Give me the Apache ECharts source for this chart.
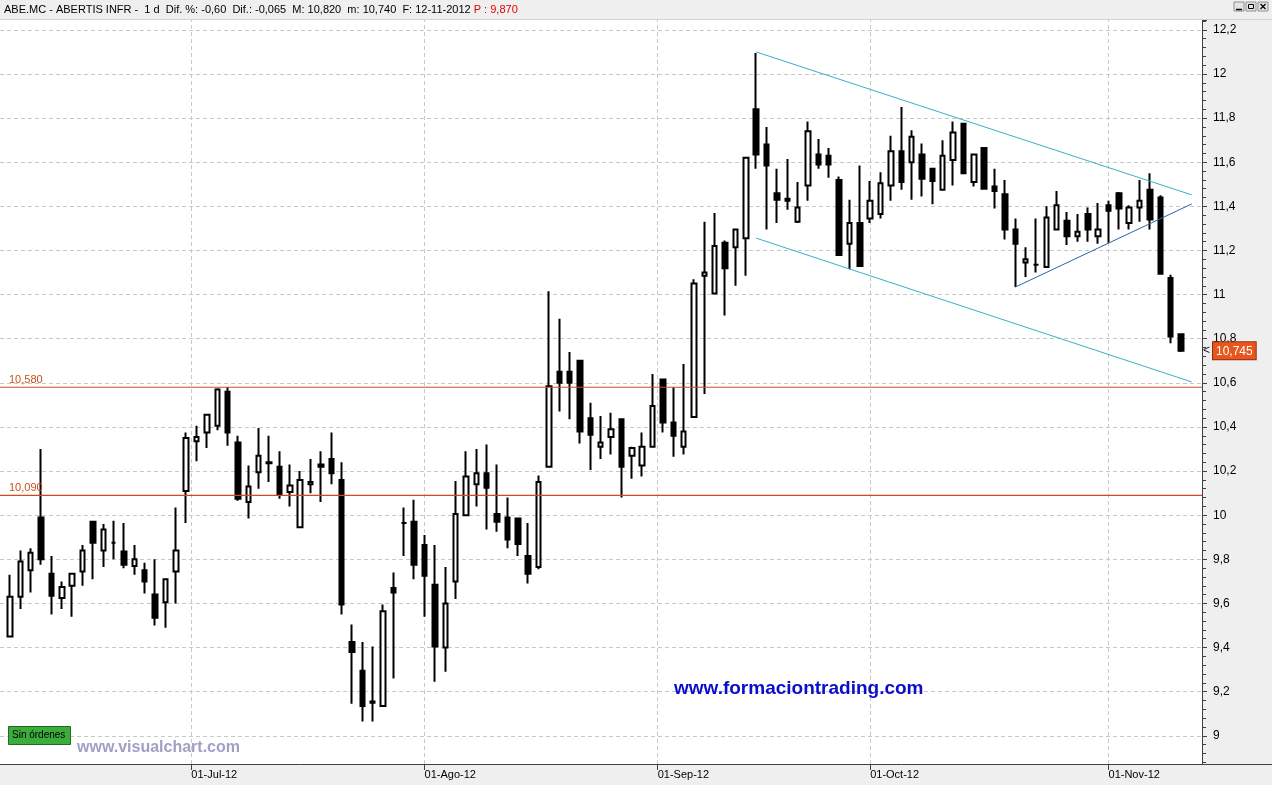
<!DOCTYPE html>
<html><head><meta charset="utf-8">
<script src="https://cdn.jsdelivr.net/npm/echarts@6/dist/echarts.min.js"></script>
<style>html,body{margin:0;padding:0;background:#efefef}#c{width:1272px;height:785px}</style>
</head><body><div id="c"></div><script>
// ---- data ----
const dates = [
 '2012-06-06','2012-06-07','2012-06-08','2012-06-11','2012-06-12','2012-06-13','2012-06-14','2012-06-15','2012-06-18','2012-06-19',
 '2012-06-20','2012-06-21','2012-06-22','2012-06-25','2012-06-26','2012-06-27','2012-06-28','2012-06-29',
 '2012-07-02','2012-07-03','2012-07-04','2012-07-05','2012-07-06','2012-07-09','2012-07-10','2012-07-11','2012-07-12','2012-07-13',
 '2012-07-16','2012-07-17','2012-07-18','2012-07-19','2012-07-20','2012-07-23','2012-07-24','2012-07-25','2012-07-26','2012-07-27',
 '2012-07-30','2012-07-31',
 '2012-08-01','2012-08-02','2012-08-03','2012-08-06','2012-08-07','2012-08-08','2012-08-09','2012-08-10','2012-08-13','2012-08-14',
 '2012-08-15','2012-08-16','2012-08-17','2012-08-20','2012-08-21','2012-08-22','2012-08-23','2012-08-24','2012-08-27','2012-08-28',
 '2012-08-29','2012-08-30','2012-08-31',
 '2012-09-03','2012-09-04','2012-09-05','2012-09-06','2012-09-07','2012-09-10','2012-09-11','2012-09-12','2012-09-13','2012-09-14',
 '2012-09-17','2012-09-18','2012-09-19','2012-09-20','2012-09-21','2012-09-24','2012-09-25','2012-09-26','2012-09-27','2012-09-28',
 '2012-10-01','2012-10-02','2012-10-03','2012-10-04','2012-10-05','2012-10-08','2012-10-09','2012-10-10','2012-10-11','2012-10-12',
 '2012-10-15','2012-10-16','2012-10-17','2012-10-18','2012-10-19','2012-10-22','2012-10-23','2012-10-24','2012-10-25','2012-10-26',
 '2012-10-29','2012-10-30','2012-10-31',
 '2012-11-01','2012-11-02','2012-11-05','2012-11-06','2012-11-07','2012-11-08','2012-11-09','2012-11-12'
];
const openPrices = [
 9.45, 9.63, 9.75, 9.99, 9.735, 9.625, 9.68, 9.745, 9.97, 9.84,
 9.875, 9.835, 9.77, 9.75, 9.64, 9.605, 9.745, 10.11, 10.335, 10.375,
 10.405, 10.56, 10.33, 10.06, 10.195, 10.24, 10.22, 10.105, 9.945, 10.14,
 10.23, 10.255, 10.16, 9.425, 9.295, 9.155, 9.135, 9.67, 9.965, 9.97,
 9.865, 9.685, 9.40, 9.70, 10.00, 10.14, 10.19, 10.005, 9.99, 9.985,
 9.815, 9.765, 10.22, 10.65, 10.65, 10.70, 10.44, 10.31, 10.355, 10.435,
 10.27, 10.225, 10.31, 10.615, 10.42, 10.31, 10.445, 11.085, 11.005, 11.235,
 11.215, 11.255, 11.84, 11.68, 11.46, 11.425, 11.33, 11.495, 11.635, 11.63,
 11.52, 11.23, 11.325, 11.345, 11.365, 11.495, 11.65, 11.60, 11.635, 11.57,
 11.475, 11.61, 11.775, 11.51, 11.665, 11.49, 11.455, 11.295, 11.145, 11.135,
 11.125, 11.295, 11.335, 11.265, 11.365, 11.265, 11.405, 11.46, 11.325, 11.395,
 11.475, 11.44, 11.075, 10.82
];
const highPrices = [
 9.73, 9.84, 9.85, 10.30, 9.815, 9.70, 9.735, 9.865, 9.97, 9.96,
 9.975, 9.965, 9.865, 9.785, 9.80, 9.71, 10.035, 10.375, 10.405, 10.455,
 10.575, 10.58, 10.36, 10.225, 10.395, 10.36, 10.29, 10.23, 10.20, 10.255,
 10.29, 10.375, 10.24, 9.505, 9.425, 9.405, 9.595, 9.74, 10.035, 10.07,
 9.91, 9.865, 9.765, 10.155, 10.29, 10.30, 10.32, 10.23, 10.08, 9.985,
 9.965, 10.18, 11.015, 10.89, 10.74, 10.70, 10.51, 10.45, 10.465, 10.435,
 10.31, 10.375, 10.64, 10.615, 10.58, 10.685, 11.07, 11.33, 11.37, 11.245,
 11.295, 11.62, 12.095, 11.76, 11.57, 11.615, 11.51, 11.785, 11.705, 11.665,
 11.535, 11.43, 11.585, 11.515, 11.555, 11.72, 11.85, 11.745, 11.685, 11.575,
 11.70, 11.785, 11.775, 11.64, 11.665, 11.57, 11.52, 11.345, 11.215, 11.345,
 11.40, 11.47, 11.375, 11.365, 11.395, 11.415, 11.425, 11.465, 11.405, 11.52,
 11.55, 11.45, 11.09, 10.82
];
const lowPrices = [
 9.45, 9.575, 9.65, 9.775, 9.55, 9.575, 9.54, 9.68, 9.71, 9.765,
 9.80, 9.76, 9.73, 9.645, 9.50, 9.49, 9.60, 9.965, 10.245, 10.305,
 10.385, 10.315, 10.065, 9.985, 10.12, 10.15, 10.075, 10.04, 9.945, 10.10,
 10.06, 10.14, 9.55, 9.145, 9.065, 9.065, 9.135, 9.26, 9.815, 9.71,
 9.54, 9.245, 9.29, 9.62, 10.00, 10.04, 9.935, 9.925, 9.85, 9.815,
 9.69, 9.755, 10.22, 10.47, 10.435, 10.325, 10.205, 10.255, 10.275, 10.08,
 10.165, 10.175, 10.31, 10.375, 10.265, 10.275, 10.445, 10.55, 11.005, 10.905,
 11.04, 11.085, 11.57, 11.295, 11.325, 11.385, 11.325, 11.425, 11.57, 11.53,
 11.18, 11.115, 11.13, 11.325, 11.345, 11.425, 11.475, 11.43, 11.445, 11.41,
 11.475, 11.495, 11.55, 11.49, 11.475, 11.39, 11.25, 11.035, 11.08, 11.10,
 11.125, 11.295, 11.225, 11.24, 11.24, 11.23, 11.235, 11.295, 11.295, 11.33,
 11.295, 11.095, 10.78, 10.74
];
const closePrices = [
 9.63, 9.79, 9.83, 9.80, 9.635, 9.675, 9.735, 9.84, 9.875, 9.935,
 9.875, 9.775, 9.80, 9.70, 9.535, 9.71, 9.84, 10.35, 10.355, 10.455,
 10.57, 10.375, 10.075, 10.13, 10.27, 10.235, 10.095, 10.135, 10.16, 10.15,
 10.22, 10.19, 9.595, 9.38, 9.135, 9.15, 9.565, 9.65, 9.965, 9.775,
 9.725, 9.405, 9.60, 10.005, 10.175, 10.19, 10.125, 9.97, 9.89, 9.87,
 9.735, 10.15, 10.585, 10.60, 10.60, 10.38, 10.365, 10.33, 10.39, 10.22,
 10.305, 10.31, 10.495, 10.42, 10.36, 10.38, 11.05, 11.10, 11.22, 11.12,
 11.295, 11.62, 11.635, 11.585, 11.43, 11.435, 11.395, 11.74, 11.59, 11.59,
 11.18, 11.325, 11.13, 11.425, 11.505, 11.65, 11.51, 11.715, 11.525, 11.515,
 11.63, 11.735, 11.55, 11.635, 11.48, 11.47, 11.295, 11.23, 11.16, 11.135,
 11.35, 11.405, 11.265, 11.285, 11.295, 11.295, 11.38, 11.39, 11.395, 11.425,
 11.34, 11.095, 10.81, 10.745
];
const monthNames = {'07':'Jul','08':'Ago','09':'Sep','10':'Oct','11':'Nov'};
const supportLevels = [10.58, 10.09];
// trend lines: [candle index, price] start and end
const channelUpper = [[72, 12.10], [114.03, 11.452]];
const channelLower = [[72, 11.256], [114.03, 10.604]];
const triangleLine = [[97, 11.034], [114.03, 11.411]];
const lastPrice = 10.745;
const headerText = 'ABE.MC - ABERTIS INFR -  1 d  Dif. %: -0,60  Dif.: -0,065  M: 10,820  m: 10,740  F: 12-11-2012 ';
const headerPrice = 'P : 9,870';

// ---- build ----
const X_MIN = -0.965, X_MAX = 115.02;
const candleData = dates.map((d, i) => [i, openPrices[i], closePrices[i], lowPrices[i], highPrices[i]]);
const monthStarts = [];
for (let i = 1; i < dates.length; i++) {
  const pm = dates[i-1].slice(5,7), m = dates[i].slice(5,7);
  if (m !== pm) {
    const day = +dates[i].slice(8,10);
    monthStarts.push({pos: day === 1 ? i : i - 0.5, label: '01-' + monthNames[m] + '-' + dates[i].slice(2,4)});
  }
}
const monthPos = monthStarts.map(s => s.pos);
const comma = (v, d) => v.toFixed(d).replace('.', ',');

const FONT = 'Liberation Sans, Arial, sans-serif';
const SUPPORT_COLOR = '#cc4c1c';
const chart = echarts.init(document.getElementById('c'), null, {renderer: 'canvas'});
const trendStyle = (c) => ({color: c, width: 1, type: 'solid'});
const noLabel = {show: false};

const supportSeries = supportLevels.map(v => ({
  type: 'line', data: [[X_MIN, v], [X_MAX, v]], z: 5, silent: true, symbol: 'none', showSymbol: false,
  lineStyle: {color: SUPPORT_COLOR, width: 1.2, type: 'solid'}, itemStyle: {color: SUPPORT_COLOR},
  emphasis: {disabled: true}, tooltip: {show: false}
}));

chart.setOption({
  animation: false,
  backgroundColor: '#efefef',
  grid: {left: 0, right: 70, top: 20, bottom: 21, show: true, backgroundColor: '#ffffff', borderWidth: 0, containLabel: false, outerBoundsMode: 'none'},
  xAxis: {
    type: 'value', min: X_MIN, max: X_MAX, position: 'bottom',
    axisLine: {show: true, onZero: false, lineStyle: {color: '#404040', width: 1}},
    axisTick: {show: true, customValues: monthPos, length: 6, lineStyle: {color: '#404040'}},
    axisLabel: {show: true, customValues: monthPos, align: 'left', margin: 5, color: '#000', fontSize: 11, fontFamily: FONT,
      formatter: (v) => { const s = monthStarts.find(m => Math.abs(m.pos - v) < 1e-6); return s ? s.label : ''; }},
    splitLine: {show: false}, minorTick: {show: false}
  },
  yAxis: {
    type: 'value', position: 'right', min: 8.8722, max: 12.2448, minInterval: 0.2, maxInterval: 0.2, splitNumber: 17, scale: true,
    axisLine: {show: true, onZero: false, lineStyle: {color: '#404040', width: 1}},
    axisTick: {show: true, length: 5, inside: false, lineStyle: {color: '#404040'}},
    minorTick: {show: true, splitNumber: 5, length: 4, lineStyle: {color: '#404040'}},
    axisLabel: {show: true, margin: 11, color: '#000', fontSize: 12, fontFamily: FONT, showMinLabel: false, showMaxLabel: false,
      formatter: (v) => String(Math.round(v * 10) / 10).replace('.', ',')},
    splitLine: {show: true, showMinLine: false, showMaxLine: false, lineStyle: {color: '#c8c8c8', type: [4, 3], width: 1}},
    minorSplitLine: {show: false}
  },
  series: [
    {
      name: 'monthGrid', type: 'line', data: [], z: 1, silent: true,
      markLine: {z: 1, silent: true, symbol: ['none', 'none'], animation: false, label: noLabel,
        lineStyle: {color: '#c8c8c8', type: [4, 3], width: 1},
        data: monthPos.map(p => ({xAxis: p}))}
    },
    {
      name: 'ohlc', type: 'candlestick', z: 3, data: candleData, encode: {x: 0, y: [1, 2, 3, 4]},
      barWidth: 5,
      itemStyle: {color: '#ffffff', color0: '#000000', borderColor: '#000000', borderColor0: '#000000', borderColorDoji: '#000000', borderWidth: 2},
      emphasis: {disabled: true},
      markLine: {z: 6, silent: true, symbol: ['none', 'none'], animation: false, label: noLabel,
        data: [
          [{coord: channelUpper[0], lineStyle: trendStyle('#3aaecc')}, {coord: channelUpper[1]}],
          [{coord: channelLower[0], lineStyle: trendStyle('#3aaecc')}, {coord: channelLower[1]}],
          [{coord: triangleLine[0], lineStyle: trendStyle('#2a66a6')}, {coord: triangleLine[1]}]
        ]}
    },
    ...supportSeries,
    {
      name: 'last', type: 'line', data: [], z: 8, silent: true,
      markLine: {z: 8, silent: true, symbol: ['none', 'none'], animation: false, precision: 3,
        lineStyle: {color: 'rgba(0,0,0,0)', width: 0},
        label: {show: true, position: 'end', distance: 1,
          formatter: () => '{a|<}{b|' + comma(lastPrice, 3) + '}',
          rich: {
            a: {color: '#202020', fontSize: 12, fontFamily: FONT, padding: [0, 3, 0, 0]},
            b: {color: '#fff', backgroundColor: '#e8561e', borderColor: '#8a3010', borderWidth: 1, padding: [3, 3, 2, 3], fontSize: 12, fontFamily: FONT}
          }},
        data: [{yAxis: lastPrice}]}
    }
  ]
});

// labels of the support lines, placed through the chart's own scale
const supportLabels = supportLevels.map(v => {
  const py = chart.convertToPixel({yAxisIndex: 0}, v);
  return {type: 'text', z: 60, x: 9, y: py - 2, style: {text: comma(v, 3), fill: '#c8501e', font: '11px Liberation Sans, Arial, sans-serif', textVerticalAlign: 'bottom', verticalAlign: 'bottom'}};
});

chart.setOption({
  graphic: [
    {type: 'rect', z: 100, shape: {x: 0, y: 0, width: 1272, height: 19}, style: {fill: '#efefef'}},
    {type: 'line', z: 100, shape: {x1: 0, y1: 19.5, x2: 1272, y2: 19.5}, style: {stroke: '#d4d4d4', lineWidth: 1}},
    {type: 'text', z: 101, x: 4, y: 4, style: {
      text: '{k|' + headerText + '}{p|' + headerPrice + '}',
      rich: {k: {fill: '#000', fontSize: 11, fontFamily: FONT}, p: {fill: '#e00000', fontSize: 11, fontFamily: FONT}}
    }},
    {type: 'rect', z: 101, shape: {x: 1234, y: 2, width: 10, height: 9}, style: {fill: '#e4e4e4', stroke: '#909090', lineWidth: 1}},
    {type: 'rect', z: 101, shape: {x: 1246, y: 2, width: 10, height: 9}, style: {fill: '#e4e4e4', stroke: '#909090', lineWidth: 1}},
    {type: 'rect', z: 101, shape: {x: 1258, y: 2, width: 10, height: 9}, style: {fill: '#e4e4e4', stroke: '#909090', lineWidth: 1}},
    {type: 'line', z: 102, shape: {x1: 1236, y1: 9.5, x2: 1242, y2: 9.5}, style: {stroke: '#000', lineWidth: 1.5}},
    {type: 'rect', z: 102, shape: {x: 1248.5, y: 4.5, width: 5, height: 4}, style: {fill: 'none', stroke: '#000', lineWidth: 1}},
    {type: 'line', z: 102, shape: {x1: 1260.5, y1: 4, x2: 1265.5, y2: 9}, style: {stroke: '#000', lineWidth: 1.2}},
    {type: 'line', z: 102, shape: {x1: 1265.5, y1: 4, x2: 1260.5, y2: 9}, style: {stroke: '#000', lineWidth: 1.2}},
    {type: 'line', z: 100, shape: {x1: 1202, y1: 764.5, x2: 1272, y2: 764.5}, style: {stroke: '#404040', lineWidth: 1}},
    {type: 'text', z: 50, x: 674, y: 679, style: {text: 'www.formaciontrading.com', fill: '#0c0ccc', font: 'bold 19px Liberation Sans, Arial, sans-serif'}},
    {type: 'text', z: 50, x: 77, y: 740, style: {text: 'www.visualchart.com', fill: '#a0a0c6', font: 'bold 16px Liberation Sans, Arial, sans-serif'}},
    {type: 'rect', z: 50, shape: {x: 8.5, y: 726.5, width: 62, height: 18}, style: {fill: '#3cac3c', stroke: '#1e6e1e', lineWidth: 1}},
    {type: 'text', z: 51, x: 12, y: 730, style: {text: 'Sin órdenes', fill: '#000', font: '10px Liberation Sans, Arial, sans-serif'}},
    ...supportLabels
  ]
});
</script></body></html>
